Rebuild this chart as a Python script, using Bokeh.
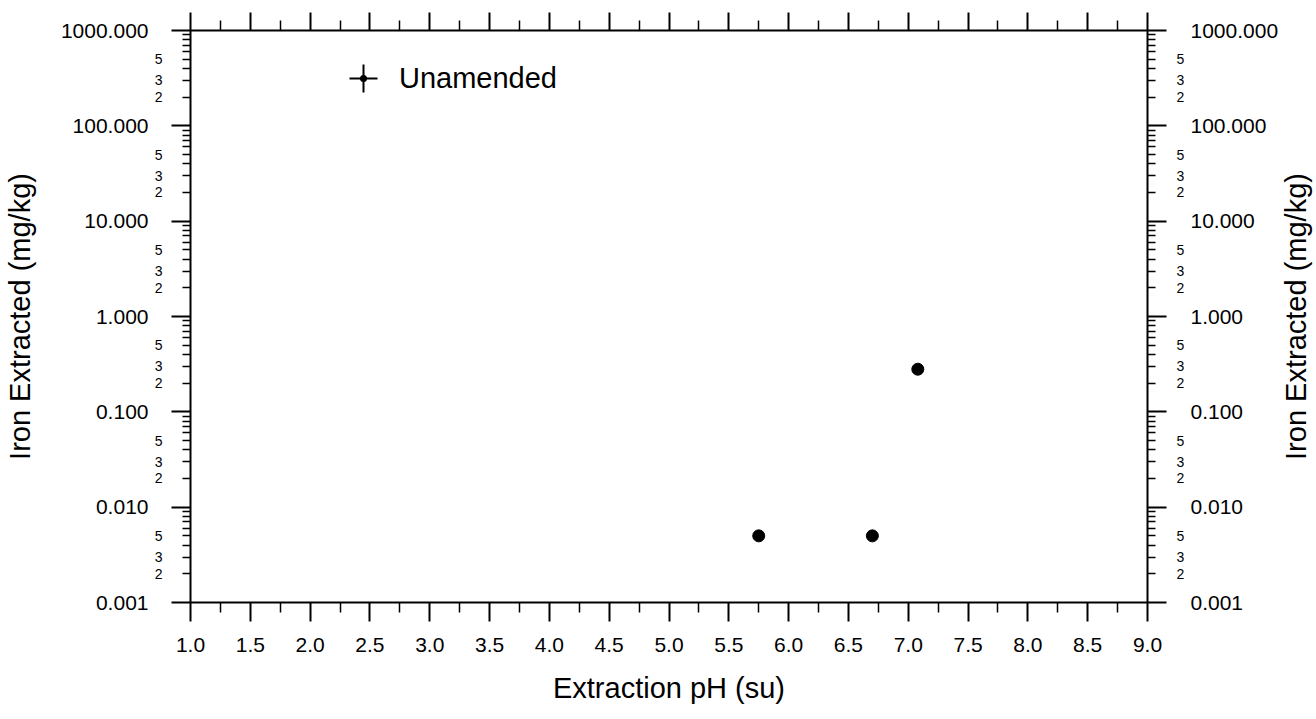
import math

from bokeh.plotting import figure
from bokeh.models import (Range1d, LinearAxis, LogAxis, FixedTicker, PrintfTickFormatter,
                          CustomJSTickFormatter, Label, Legend, LegendItem)
from bokeh.embed import file_html
from bokeh.resources import INLINE

# Iron extracted from the unamended soil at each extraction pH
series_name = "Unamended"
ph = [5.75, 6.70, 7.08]
iron_mg_kg = [0.005, 0.005, 0.28]

# Axis extents and ticks
x_start, x_end = 1.0, 9.0
x_major_ticks = [1.0, 1.5, 2.0, 2.5, 3.0, 3.5, 4.0, 4.5, 5.0, 5.5, 6.0, 6.5, 7.0, 7.5, 8.0, 8.5, 9.0]
x_minor_ticks = [1.25, 1.75, 2.25, 2.75, 3.25, 3.75, 4.25, 4.75, 5.25, 5.75, 6.25, 6.75,
                 7.25, 7.75, 8.25, 8.75]
y_decades = [0.001, 0.01, 0.1, 1.0, 10.0, 100.0, 1000.0]
y_minor_multipliers = [2, 3, 4, 5, 6, 7, 8, 9]
y_labelled_multipliers = [2, 3, 5]

x_title = "Extraction pH (su)"
y_title = "Iron Extracted (mg/kg)"

FONT = "Liberation Sans"
INK = "black"

y_minor_ticks = [m * d for d in y_decades[:-1] for m in y_minor_multipliers]
y_small_vals = [m * d for d in y_decades[:-1] for m in y_labelled_multipliers]
y_small_text = [str(m) for d in y_decades[:-1] for m in y_labelled_multipliers]

p = figure(width=1316, height=719,
           x_range=Range1d(x_start, x_end),
           y_range=Range1d(y_decades[0], y_decades[-1]),
           y_axis_type="log",
           output_backend="svg", toolbar_location=None,
           min_border_left=189, min_border_right=169,
           min_border_top=30, min_border_bottom=117)
p.outline_line_color = None
p.xgrid.visible = False
p.ygrid.visible = False
p.background_fill_color = "white"
p.border_fill_color = "white"

x_ticker = FixedTicker(ticks=x_major_ticks, minor_ticks=x_minor_ticks)
y_ticker = FixedTicker(ticks=y_decades, minor_ticks=y_minor_ticks)
no_labels = CustomJSTickFormatter(code="return ''")
small_labels = CustomJSTickFormatter(args=dict(vals=y_small_vals, txt=y_small_text), code="""
    for (let i = 0; i < vals.length; i++) {
        if (Math.abs(vals[i] - tick) <= 1e-9 * vals[i]) return txt[i]
    }
    return ''
""")


def style_axis(ax, major_out, minor_out, standoff):
    ax.axis_line_color = INK
    ax.axis_line_width = 2
    ax.major_tick_line_color = INK
    ax.major_tick_line_width = 2
    ax.major_tick_in = 0
    ax.major_tick_out = major_out
    ax.minor_tick_line_color = INK
    ax.minor_tick_line_width = 1.5
    ax.minor_tick_in = 0
    ax.minor_tick_out = minor_out
    ax.major_label_text_font = FONT
    ax.major_label_text_font_size = "21px"
    ax.major_label_text_color = INK
    ax.major_label_standoff = standoff
    ax.axis_label_text_font = FONT
    ax.axis_label_text_font_size = "29px"
    ax.axis_label_text_font_style = "normal"
    ax.axis_label_text_color = INK


def bare(ax):
    # labels only: no line and no ticks of its own
    ax.axis_line_color = None
    ax.major_tick_line_color = None
    ax.minor_tick_line_color = None
    ax.major_tick_in = 0
    ax.major_tick_out = 0
    ax.minor_tick_in = 0
    ax.minor_tick_out = 0


# bottom axis
xb = p.xaxis[0]
xb.ticker = x_ticker
xb.formatter = PrintfTickFormatter(format="%.1f")
style_axis(xb, 19, 10, 16)
xb.axis_label = x_title
xb.axis_label_standoff = 17

# top axis: ticks only
xt = LinearAxis(ticker=x_ticker, formatter=no_labels)
style_axis(xt, 18, 10, 0)
p.add_layout(xt, "above")

# left side, from the frame outwards: ticks, small 2/3/5 labels, decade labels + title
yl = p.yaxis[0]
yl.ticker = y_ticker
yl.formatter = no_labels
style_axis(yl, 19, 8, 0)

yl_small = LogAxis(ticker=FixedTicker(ticks=y_small_vals, minor_ticks=[]),
                   formatter=small_labels)
style_axis(yl_small, 0, 0, 9)
bare(yl_small)
yl_small.major_label_text_font_size = "14px"
p.add_layout(yl_small, "left")

yl_main = LogAxis(ticker=FixedTicker(ticks=y_decades, minor_ticks=[]),
                  formatter=PrintfTickFormatter(format="%.3f"))
style_axis(yl_main, 0, 0, 3)
bare(yl_main)
yl_main.axis_label = y_title
yl_main.axis_label_standoff = 22
p.add_layout(yl_main, "left")

# right side, mirrored
yr = LogAxis(ticker=y_ticker, formatter=no_labels)
style_axis(yr, 19, 8, 0)
p.add_layout(yr, "right")

yr_small = LogAxis(ticker=FixedTicker(ticks=y_small_vals, minor_ticks=[]),
                   formatter=small_labels)
style_axis(yr_small, 0, 0, 10)
bare(yr_small)
yr_small.major_label_text_font_size = "14px"
p.add_layout(yr_small, "right")

yr_main = LogAxis(ticker=FixedTicker(ticks=y_decades, minor_ticks=[]),
                  formatter=PrintfTickFormatter(format="%.3f"))
style_axis(yr_main, 0, 0, 3)
bare(yr_main)
p.add_layout(yr_main, "right")

# right-hand title, reading bottom to top like the left one
p.add_layout(Label(x=x_end, y=1.0, x_offset=148, text=y_title, angle=math.pi / 2,
                   text_align="center", text_baseline="middle",
                   text_font=FONT, text_font_size="29px", text_color=INK), "right")

# data points
p.scatter(ph, iron_mg_kg, marker="circle", size=12, fill_color=INK, line_color=INK)

# legend symbol: dot with error-bar cross
bar_r = p.scatter(ph, iron_mg_kg, marker="cross", size=28, line_color=INK, line_width=2,
                  visible=False)
dot_r = p.scatter(ph, iron_mg_kg, marker="dot", size=28, line_color=INK, fill_color=INK,
                  line_width=2, visible=False)
legend = Legend(items=[LegendItem(label=series_name, renderers=[bar_r, dot_r])],
                location=(138, 489), glyph_width=70, glyph_height=70,
                label_standoff=1, padding=0, margin=0, spacing=0,
                border_line_color=None, background_fill_alpha=0,
                label_text_font=FONT, label_text_font_size="29px", label_text_color=INK)
p.add_layout(legend, "center")

open("out.html", "w").write(file_html(p, INLINE))
